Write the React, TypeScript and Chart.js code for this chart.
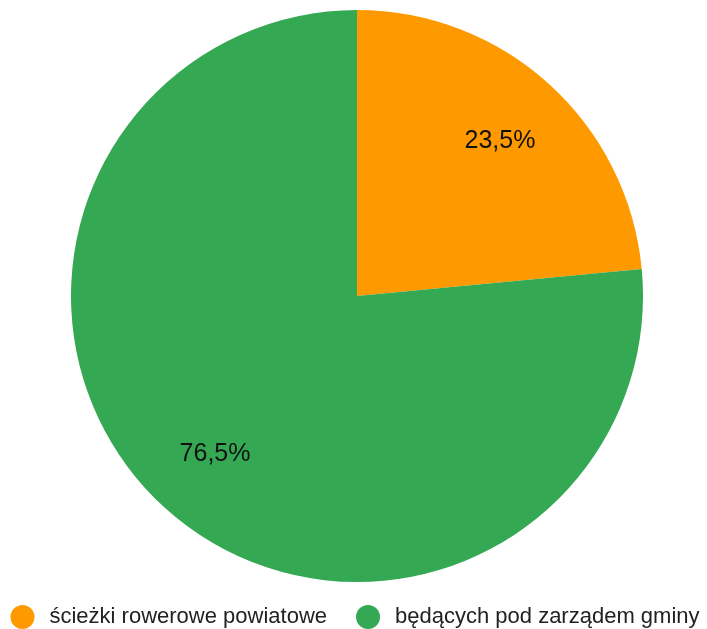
import React, { useEffect, useRef } from "react";
import { Chart, registerables } from "chart.js";

Chart.register(...registerables);

const categories = ["ścieżki rowerowe powiatowe", "będących pod zarządem gminy"];
const values = [23.5, 76.5];
const colors = ["#FF9900", "#34A853"];

const fmt = (v: number) => v.toFixed(1).replace(".", ",") + "%";
const FONT = '"Liberation Sans", Arial, sans-serif';

const sliceLabels = {
  id: "sliceLabels",
  afterDatasetsDraw(chart: any) {
    const { ctx } = chart;
    const meta = chart.getDatasetMeta(0);
    const data = chart.data.datasets[0].data as number[];
    ctx.save();
    ctx.font = `25px ${FONT}`;
    ctx.fillStyle = "#111";
    ctx.textAlign = "center";
    ctx.textBaseline = "middle";
    meta.data.forEach((arc: any, i: number) => {
      const { x, y, startAngle, endAngle, outerRadius } = arc.getProps(
        ["x", "y", "startAngle", "endAngle", "outerRadius"],
        true
      );
      const mid = (startAngle + endAngle) / 2;
      const r = outerRadius * 0.74;
      ctx.fillText(fmt(data[i]), x + Math.cos(mid) * r + 0.5, y + Math.sin(mid) * r + 2);
    });
    ctx.restore();
  },
};

const bottomLegend = {
  id: "bottomLegend",
  afterDraw(chart: any) {
    const { ctx, width, height } = chart;
    const labels = chart.data.labels as string[];
    const bg = chart.data.datasets[0].backgroundColor as string[];
    ctx.save();
    ctx.font = `22px ${FONT}`;
    const r = 12;
    const gapText = 15;
    const gapItem = 29;
    const widths = labels.map((l) => ctx.measureText(l).width);
    const total =
      widths.reduce((a, w) => a + 2 * r + gapText + w, 0) + gapItem * (labels.length - 1);
    let x = (width - total) / 2 + 1.5;
    const y = height - 12;
    ctx.textBaseline = "middle";
    ctx.textAlign = "left";
    labels.forEach((l, i) => {
      ctx.fillStyle = bg[i];
      ctx.beginPath();
      ctx.arc(x + r, y, r, 0, Math.PI * 2);
      ctx.fill();
      ctx.fillStyle = "#222";
      ctx.fillText(l, x + 2 * r + gapText, y);
      x += 2 * r + gapText + widths[i] + gapItem;
    });
    ctx.restore();
  },
};

export default function App() {
  const ref = useRef<HTMLCanvasElement>(null);
  useEffect(() => {
    document.body.style.margin = "0";
    const chart = new Chart(ref.current!, {
      type: "pie",
      data: {
        labels: categories,
        datasets: [
          {
            data: values,
            backgroundColor: colors,
            borderWidth: 0,
          },
        ],
      },
      options: {
        animation: false,
        responsive: false,
        layout: { padding: { top: 10, left: 7, right: 0, bottom: 47 } },
        plugins: {
          tooltip: { enabled: false },
          legend: { display: false },
        },
      },
      plugins: [sliceLabels, bottomLegend],
    });
    return () => chart.destroy();
  }, []);
  return <canvas ref={ref} width={707} height={629} style={{ display: "block" }} />;
}
